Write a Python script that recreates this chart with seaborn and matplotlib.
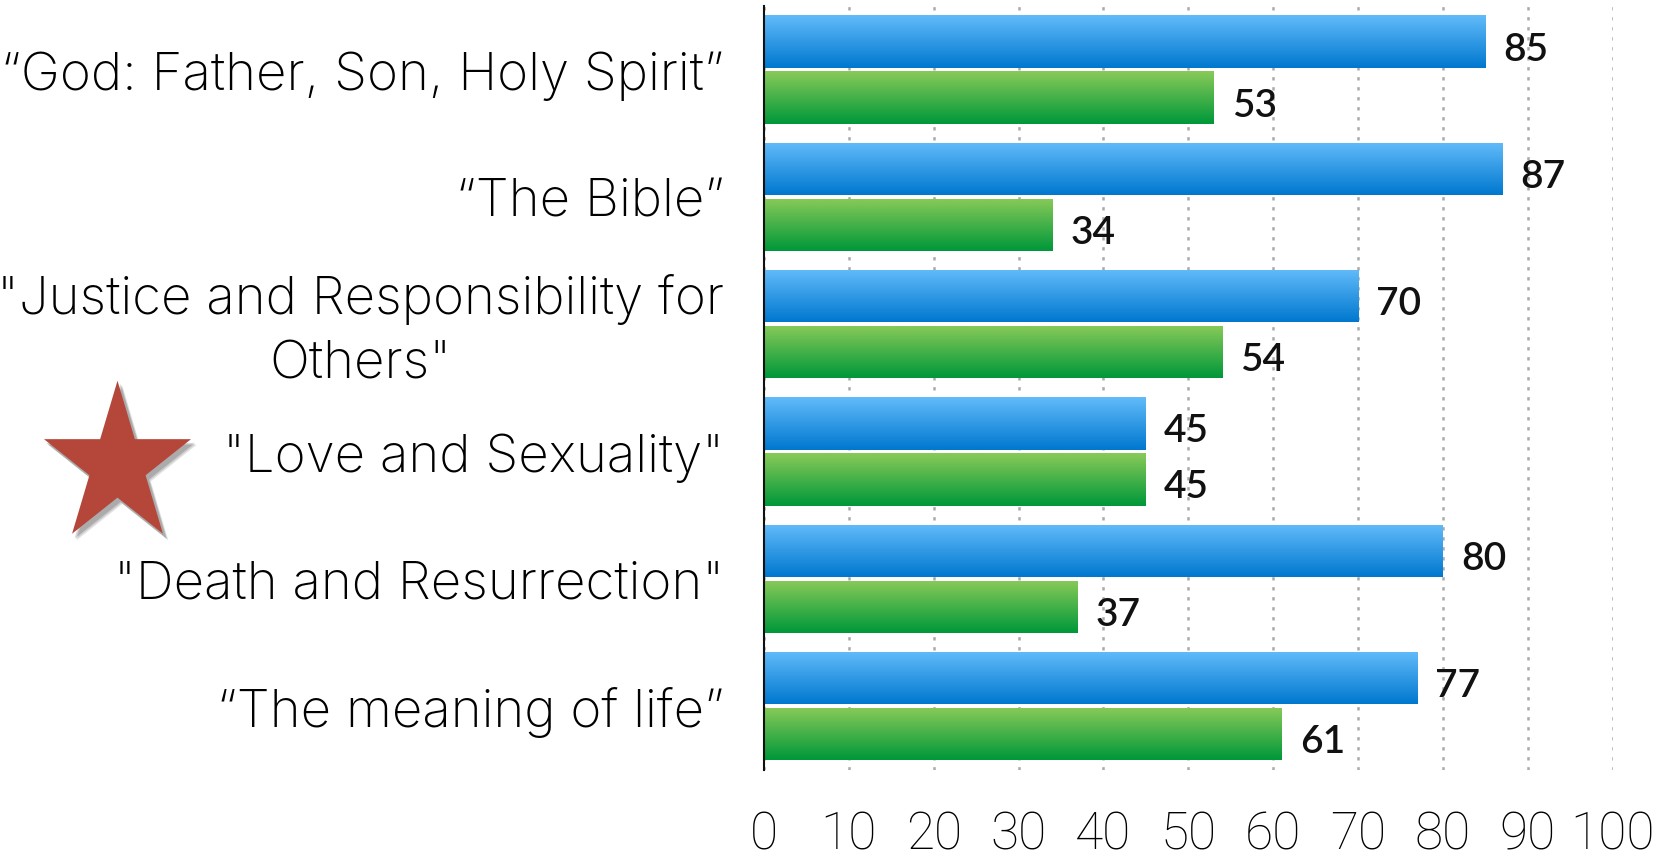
import numpy as np
import pandas as pd
import seaborn as sns
import matplotlib
matplotlib.use("Agg")
import matplotlib.pyplot as plt
from matplotlib.path import Path
from matplotlib.patches import PathPatch
from matplotlib.transforms import Affine2D, ScaledTranslation
from matplotlib.colors import to_rgb

categories = [
    "\u201cGod: Father, Son, Holy Spirit\u201d",
    "\u201cThe Bible\u201d",
    "\"Justice and Responsibility for\nOthers\"",
    "\"Love and Sexuality\"",
    "\"Death and Resurrection\"",
    "\u201cThe meaning of life\u201d",
]
series_names = ["A", "B"]
blue_values = [85, 87, 70, 45, 80, 77]
green_values = [53, 34, 54, 45, 37, 61]
xticks = [0, 10, 20, 30, 40, 50, 60, 70, 80, 90, 100]

df = pd.DataFrame({
    "cat": categories * 2,
    "series": [series_names[0]] * len(categories) + [series_names[1]] * len(categories),
    "value": blue_values + green_values,
})

sns.set_theme(style="white")
plt.rcParams["lines.scale_dashes"] = False
plt.rcParams["font.family"] = ["Inter", "DejaVu Sans"]

W, H = 1658, 862
fig = plt.figure(figsize=(W / 100, H / 100), dpi=100)
ax = fig.add_axes([764 / W, (H - 770.6) / H, (1612.6 - 764) / W, (770.6 - 7) / H])

sns.barplot(data=df, y="cat", x="value", hue="series", orient="h",
            palette=["#2f97e6", "#3aac48"], width=0.88, gap=0.066,
            dodge=True, legend=False, ax=ax, zorder=3, linewidth=0)

ax.set_xlim(0, 100)
ax.set_ylim(5.5, -0.5)

grads = {
    0: (to_rgb("#62bbfa"), to_rgb("#0078cf")),
    1: (to_rgb("#88ca58"), to_rgb("#00983a")),
}
patches = [p for p in ax.patches]
n = len(categories)
for i, p in enumerate(patches):
    s = 0 if i < n else 1
    top, bot = grads[s]
    t = np.linspace(0, 1, 64)[:, None, None]
    arr = np.array(top)[None, None, :] * (1 - t) + np.array(bot)[None, None, :] * t
    x0, y0 = p.get_x(), p.get_y()
    w, h = p.get_width(), p.get_height()
    ymin, ymax = min(y0, y0 + h), max(y0, y0 + h)
    im = ax.imshow(arr, extent=(x0, x0 + w, ymax, ymin), origin="upper",
                   aspect="auto", zorder=3, interpolation="bilinear")
    im.set_clip_path(p)
    p.set_facecolor("none")

ax.set_xlim(0, 100)
ax.set_ylim(5.5, -0.5)

# value labels
all_values = blue_values + green_values
for i, p in enumerate(patches):
    val = all_values[i]
    yc = p.get_y() + p.get_height() / 2
    ax.annotate(f"{val}", xy=(p.get_x() + p.get_width(), yc), xytext=(13, -5),
                textcoords="offset points", ha="left", va="center",
                fontsize=28, color="#111111", family=["Lato", "DejaVu Sans"],
                fontweight="semibold", zorder=5)

ax.set_xticks(xticks)
ax.set_xticklabels([str(v) for v in xticks])
ax.tick_params(axis="x", length=0, pad=29, labelsize=37, labelcolor="#000000")
ax.tick_params(axis="y", length=0, pad=29, labelsize=38, labelcolor="#000000")
for lab in ax.get_xticklabels():
    lab.set_family(["Roboto", "DejaVu Sans"])
    lab.set_fontweight("light")
for k, lab in enumerate(ax.get_yticklabels()):
    lab.set_fontweight("light")
    lab.set_multialignment("center")
    lab.set_linespacing(1.42)
    if "\n" in lab.get_text():
        lab.set_transform(lab.get_transform() + ScaledTranslation(0, 0.07, fig.dpi_scale_trans))

ax.set_xlabel("")
ax.set_ylabel("")
ax.xaxis.grid(True, color="#aaaaaa", linewidth=1.8, linestyle=(0, (2.4, 4.8)), zorder=0)
ax.yaxis.grid(False)
ax.set_axisbelow(True)
for side in ["top", "right", "bottom"]:
    ax.spines[side].set_visible(False)
ax.spines["left"].set_color("#111111")
ax.spines["left"].set_linewidth(1.5)
ax.spines["left"].set_zorder(6)

# star decoration (pixel coordinates)
star = Path.unit_regular_star(5, innerCircle=0.381966)
cx, cy = 117.5, H - 466.3
sx, sy = 77.3, 84.6
for dx, dy, a in [(5, -6, 0.10), (4, -5, 0.12), (3, -4, 0.15)]:
    tr = Affine2D().scale(sx * 1.01, sy * 1.01).translate(cx + dx, cy + dy)
    fig.add_artist(PathPatch(star, transform=tr, facecolor="#000000",
                             edgecolor="none", alpha=a))
tr = Affine2D().scale(sx, sy).translate(cx, cy)
fig.add_artist(PathPatch(star, transform=tr, facecolor="#b4473a", edgecolor="none"))

fig.savefig("out.png", dpi=100)
